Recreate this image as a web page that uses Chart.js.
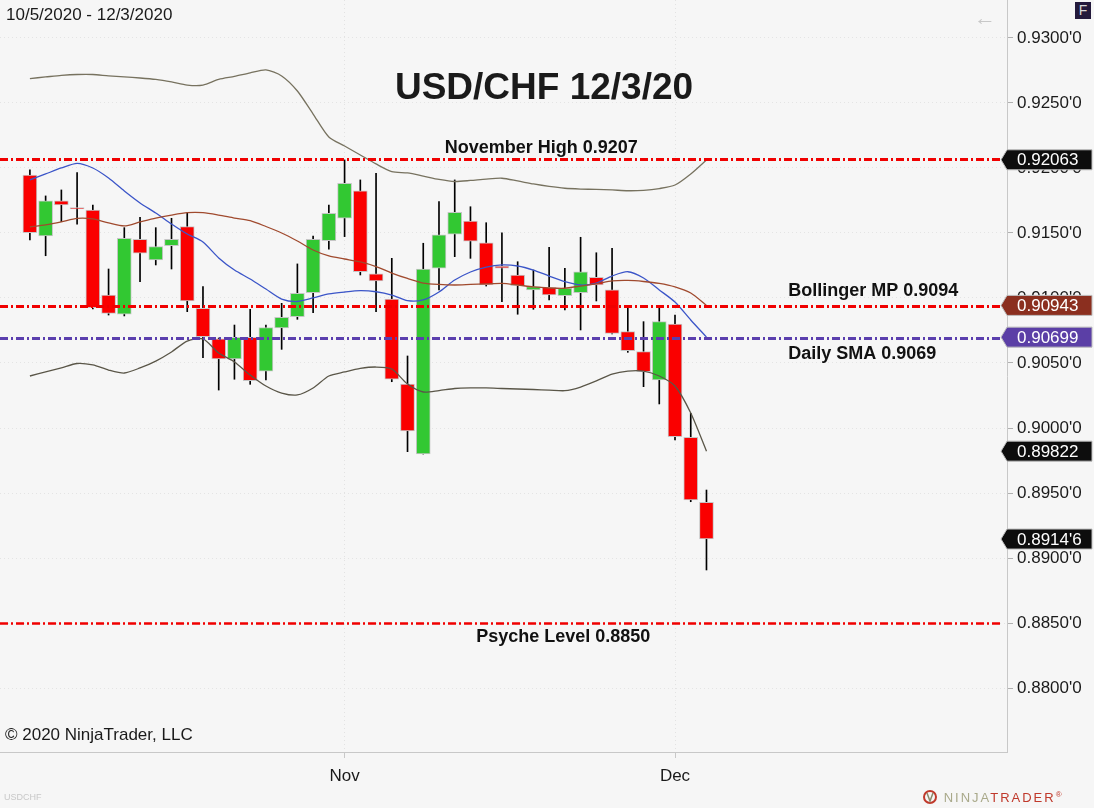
<!DOCTYPE html>
<html>
<head>
<meta charset="utf-8">
<script src="https://cdn.jsdelivr.net/npm/chart.js@4.4.1/dist/chart.umd.min.js"></script>
<style>
    body { margin: 0; background: #f6f6f6; }
    #wrap { position: relative; width: 1094px; height: 808px; overflow: hidden; }
    #chart { position: absolute; left: 0; top: 0; }
    .txt { position: absolute; font-family: "Liberation Sans", Arial, sans-serif; color: #1a1a1a; white-space: nowrap; line-height: 1; }
</style>
</head>
<body>
<div id="wrap">
    <canvas id="chart" width="1094" height="808"></canvas>
    <div class="txt" style="left:6px; top:6px; font-size:17px;">10/5/2020 - 12/3/2020</div>
    <div class="txt" style="left:0; width:1088px; top:68px; font-size:37px; font-weight:bold; text-align:center;">USD/CHF 12/3/20</div>
    <div class="txt" style="left:5px; top:726px; font-size:17px;">© 2020 NinjaTrader, LLC</div>
    <div class="txt" style="left:4px; top:793px; font-size:9px; color:#c8c8c8;">USDCHF</div>
    <div class="txt" style="left:974px; top:7px; font-size:22px; color:#c8c8c8;">←</div>
    <div class="txt" style="left:1075px; top:2px; width:16px; height:17px; background:#241a3c; color:#d8d8d8; font-size:14px; text-align:center; line-height:17px;">F</div>
    <div class="txt" style="left:922px; top:790px; font-size:13px; letter-spacing:2px;">
        <svg width="16" height="14" style="vertical-align:-2px"><circle cx="8" cy="7" r="6" fill="none" stroke="#c0392b" stroke-width="2"/><path d="M5 3 L8 11 L11 3" fill="none" stroke="#8a8a6a" stroke-width="1.5"/></svg>
        <span style="color:#a9a98a;">NINJA</span><span style="color:#c0392b;">TRADER</span><span style="color:#c0392b; font-size:8px; vertical-align:5px;">®</span>
    </div>
</div>
<script>
const dates = [
    '2020-10-05', '2020-10-06', '2020-10-07', '2020-10-08', '2020-10-09',
    '2020-10-12', '2020-10-13', '2020-10-14', '2020-10-15', '2020-10-16',
    '2020-10-19', '2020-10-20', '2020-10-21', '2020-10-22', '2020-10-23',
    '2020-10-26', '2020-10-27', '2020-10-28', '2020-10-29', '2020-10-30',
    '2020-11-02', '2020-11-03', '2020-11-04', '2020-11-05', '2020-11-06',
    '2020-11-09', '2020-11-10', '2020-11-11', '2020-11-12', '2020-11-13',
    '2020-11-16', '2020-11-17', '2020-11-18', '2020-11-19', '2020-11-20',
    '2020-11-23', '2020-11-24', '2020-11-25', '2020-11-26', '2020-11-27',
    '2020-11-30', '2020-12-01', '2020-12-02', '2020-12-03'
];

const opens = [0.91946, 0.91477, 0.91748, 0.91696, 0.91677, 0.91023, 0.90875, 0.91452, 0.91292, 0.91402, 0.91549, 0.90921, 0.90685, 0.90531, 0.90698, 0.90438, 0.90769, 0.90856, 0.91041, 0.91441, 0.91613, 0.91825, 0.91185, 0.90992, 0.90338, 0.89800, 0.91229, 0.91490, 0.91592, 0.91425, 0.91246, 0.91177, 0.91062, 0.91082, 0.91018, 0.91041, 0.91159, 0.91062, 0.90741, 0.90587, 0.90369, 0.90800, 0.89928, 0.89428];
const highs = [0.91985, 0.91785, 0.91831, 0.91964, 0.91715, 0.91223, 0.91541, 0.91621, 0.91541, 0.91613, 0.91656, 0.91087, 0.90692, 0.90792, 0.90913, 0.90792, 0.90959, 0.91262, 0.91477, 0.91715, 0.92062, 0.91908, 0.91959, 0.91305, 0.90554, 0.91421, 0.91741, 0.91908, 0.91702, 0.91579, 0.91502, 0.91279, 0.91215, 0.91390, 0.91229, 0.91467, 0.91348, 0.91382, 0.90921, 0.90818, 0.90928, 0.90869, 0.90113, 0.89523];
const lows = [0.91446, 0.91325, 0.91587, 0.91567, 0.90915, 0.90869, 0.90862, 0.91125, 0.91254, 0.91223, 0.90895, 0.90541, 0.90292, 0.90375, 0.90336, 0.90369, 0.90605, 0.90836, 0.90887, 0.91375, 0.91472, 0.91177, 0.90895, 0.90356, 0.89818, 0.89800, 0.91062, 0.91318, 0.91305, 0.91092, 0.90972, 0.90875, 0.90913, 0.90985, 0.90908, 0.90754, 0.90977, 0.90723, 0.90582, 0.90318, 0.90185, 0.89908, 0.89433, 0.88908];
const closes = [0.91502, 0.91748, 0.91715, 0.91685, 0.90925, 0.90882, 0.91459, 0.91344, 0.91395, 0.91452, 0.90977, 0.90702, 0.90531, 0.90698, 0.90364, 0.90772, 0.90852, 0.91036, 0.91452, 0.91652, 0.91882, 0.91202, 0.91131, 0.90375, 0.89977, 0.91223, 0.91485, 0.91659, 0.91438, 0.91100, 0.91229, 0.91095, 0.91087, 0.91023, 0.91075, 0.91202, 0.91100, 0.90728, 0.90595, 0.90433, 0.90818, 0.89933, 0.89446, 0.89146];

const upperBand = [0.92688, 0.92700, 0.92712, 0.92719, 0.92719, 0.92708, 0.92700, 0.92692, 0.92681, 0.92662, 0.92638, 0.92638, 0.92681, 0.92704, 0.92731, 0.92754, 0.92708, 0.92592, 0.92415, 0.92238, 0.92169, 0.92100, 0.92031, 0.91972, 0.91962, 0.91938, 0.91912, 0.91896, 0.91904, 0.91915, 0.91921, 0.91900, 0.91877, 0.91858, 0.91844, 0.91838, 0.91835, 0.91831, 0.91825, 0.91828, 0.91842, 0.91869, 0.91954, 0.92062];
const middleBand = [0.91546, 0.91562, 0.91585, 0.91612, 0.91608, 0.91577, 0.91554, 0.91585, 0.91615, 0.91638, 0.91656, 0.91656, 0.91638, 0.91615, 0.91595, 0.91550, 0.91500, 0.91438, 0.91369, 0.91323, 0.91300, 0.91277, 0.91242, 0.91192, 0.91150, 0.91115, 0.91104, 0.91100, 0.91104, 0.91108, 0.91113, 0.91100, 0.91085, 0.91077, 0.91075, 0.91092, 0.91108, 0.91131, 0.91135, 0.91127, 0.91112, 0.91085, 0.91038, 0.90943];
const lowerBand = [0.90400, 0.90431, 0.90462, 0.90496, 0.90485, 0.90446, 0.90423, 0.90462, 0.90515, 0.90585, 0.90669, 0.90685, 0.90577, 0.90508, 0.90408, 0.90323, 0.90269, 0.90254, 0.90308, 0.90400, 0.90431, 0.90458, 0.90469, 0.90454, 0.90338, 0.90277, 0.90288, 0.90304, 0.90308, 0.90308, 0.90304, 0.90300, 0.90296, 0.90292, 0.90287, 0.90315, 0.90362, 0.90415, 0.90438, 0.90438, 0.90400, 0.90323, 0.90115, 0.89822];
const smaLine = [0.91908, 0.91954, 0.92000, 0.92036, 0.92000, 0.91923, 0.91823, 0.91731, 0.91654, 0.91569, 0.91492, 0.91431, 0.91308, 0.91215, 0.91146, 0.91069, 0.90992, 0.90973, 0.91000, 0.91031, 0.91046, 0.91056, 0.91048, 0.91023, 0.90979, 0.90985, 0.91046, 0.91138, 0.91200, 0.91238, 0.91254, 0.91246, 0.91215, 0.91169, 0.91125, 0.91100, 0.91115, 0.91169, 0.91202, 0.91154, 0.91062, 0.90969, 0.90831, 0.90699];

const yTickValues = [0.8800, 0.8850, 0.8900, 0.8950, 0.9000, 0.9050, 0.9100, 0.9150, 0.9200, 0.9250, 0.9300];
const monthNames = ['Jan', 'Feb', 'Mar', 'Apr', 'May', 'Jun', 'Jul', 'Aug', 'Sep', 'Oct', 'Nov', 'Dec'];

const levelValues = [0.9207, 0.9094, 0.9069, 0.8850];
const levelLabels = ['November High 0.9207', 'Bollinger MP 0.9094', 'Daily SMA 0.9069', 'Psyche Level 0.8850'];

const tagValues = [0.92063, 0.90943, 0.90699, 0.89822, 0.89146];
const tagLabels = ['0.92063', '0.90943', '0.90699', '0.89822', "0.8914'6"];

// styles for the level lines / tags (kept apart from the values)
const levelStyles = [
    { color: '#f00000', width: 3, anchor: 'center', at: 32.5, dy: -11 },
    { color: '#f00000', width: 3, anchor: 'left', at: 48.2, dy: -15 },
    { color: '#5b3fae', width: 3, anchor: 'left', at: 48.2, dy: 16 },
    { color: '#f00000', width: 2.5, anchor: 'center', at: 33.9, dy: 14 }
];
const tagColors = ['#0d0d0d', '#8b2f1f', '#5b3fa6', '#0d0d0d', '#0d0d0d'];

const monthTicks = dates
    .map((d, i) => ({ i, m: Number(d.slice(5, 7)) }))
    .filter((o, k, arr) => k > 0 && o.m !== arr[k - 1].m);

const FONT = '"Liberation Sans", Arial, sans-serif';

const bgPlugin = {
    id: 'bg',
    beforeDraw(chart) {
        const ctx = chart.ctx;
        ctx.save();
        ctx.fillStyle = '#f6f6f6';
        ctx.fillRect(0, 0, chart.width, chart.height);
        ctx.restore();
    }
};

const levelsPlugin = {
    id: 'levels',
    afterDraw(chart) {
        const ctx = chart.ctx;
        const { left, right } = chart.chartArea;
        const xs = chart.scales.x;
        const ys = chart.scales.y;
        const tipX = right - 6;

        ctx.save();
        levelValues.forEach((v, k) => {
            const st = levelStyles[k];
            const y = Math.round(ys.getPixelForValue(v)) + 0.5;
            ctx.strokeStyle = st.color;
            ctx.lineWidth = st.width;
            ctx.setLineDash([8, 3, 2, 3]);
            ctx.beginPath();
            ctx.moveTo(left, y);
            ctx.lineTo(tipX, y);
            ctx.stroke();

            ctx.setLineDash([]);
            ctx.fillStyle = '#111';
            ctx.font = 'bold 18px ' + FONT;
            ctx.textBaseline = 'middle';
            ctx.textAlign = st.anchor;
            ctx.fillText(levelLabels[k], xs.getPixelForValue(st.at), y + st.dy);
        });

        // price tags on the right axis
        tagValues.forEach((v, k) => {
            const y = ys.getPixelForValue(v);
            const h = 20;
            ctx.fillStyle = tagColors[k];
            ctx.strokeStyle = '#bdbdbd';
            ctx.lineWidth = 1;
            ctx.beginPath();
            ctx.moveTo(tipX, y);
            ctx.lineTo(tipX + 6, y - h / 2);
            ctx.lineTo(chart.width - 2, y - h / 2);
            ctx.lineTo(chart.width - 2, y + h / 2);
            ctx.lineTo(tipX + 6, y + h / 2);
            ctx.closePath();
            ctx.fill();
            ctx.stroke();
            ctx.fillStyle = '#ffffff';
            ctx.font = '17px ' + FONT;
            ctx.textAlign = 'left';
            ctx.textBaseline = 'middle';
            ctx.fillText(tagLabels[k], right + 10, y + 1);
        });
        ctx.restore();
    }
};

const wickData = dates.map((d, i) => ({ x: i, y: [lows[i], highs[i]] }));
const bodyData = dates.map((d, i) => ({ x: i, y: [opens[i], closes[i]] }));
const bodyColors = dates.map((d, i) => closes[i] >= opens[i] ? '#32c832' : '#fa0000');
const lineData = arr => arr.map((v, i) => ({ x: i, y: v }));

function lineSet(data, color, width) {
    return {
        type: 'line',
        data: lineData(data),
        borderColor: color,
        borderWidth: width,
        pointRadius: 0,
        tension: 0.25,
        fill: false,
        order: 1
    };
}

const ctx = document.getElementById('chart').getContext('2d');
new Chart(ctx, {
    data: {
        datasets: [
            {
                type: 'bar',
                data: wickData,
                backgroundColor: '#000000',
                barThickness: 1,
                grouped: false,
                order: 3
            },
            {
                type: 'bar',
                data: bodyData,
                backgroundColor: bodyColors,
                borderColor: '#c6c6c6',
                borderWidth: 1,
                borderSkipped: false,
                barThickness: 14,
                grouped: false,
                order: 2
            },
            lineSet(upperBand, '#77725f', 1.3),
            lineSet(lowerBand, '#5a5648', 1.3),
            lineSet(middleBand, '#a04a2e', 1.3),
            lineSet(smaLine, '#3b55c8', 1.3)
        ]
    },
    options: {
        responsive: false,
        animation: false,
        devicePixelRatio: 1,
        layout: { padding: 0 },
        plugins: {
            legend: { display: false },
            tooltip: { enabled: false }
        },
        scales: {
            x: {
                type: 'linear',
                min: -1.9,
                max: 62.1,
                offset: false,
                afterBuildTicks: axis => {
                    axis.ticks = monthTicks.map(o => ({ value: o.i }));
                },
                afterFit: axis => {
                    axis.height = 56;
                    axis.paddingLeft = 0;
                    axis.paddingRight = 0;
                },
                ticks: {
                    autoSkip: false,
                    maxRotation: 0,
                    padding: 8,
                    color: '#1a1a1a',
                    font: { family: FONT, size: 17 },
                    callback: v => {
                        const o = monthTicks.find(t => t.i === v);
                        return o ? monthNames[o.m - 1] : '';
                    }
                },
                grid: {
                    offset: false,
                    color: '#e2e2e2',
                    tickColor: '#c8c8c8',
                    tickLength: 6
                },
                border: { display: true, color: '#c8c8c8', dash: [1, 3] }
            },
            y: {
                type: 'linear',
                position: 'right',
                min: 0.87508,
                max: 0.93292,
                afterBuildTicks: axis => {
                    axis.ticks = yTickValues.map(v => ({ value: v }));
                },
                afterFit: axis => {
                    axis.width = 87;
                    axis.paddingTop = 0;
                    axis.paddingBottom = 0;
                },
                ticks: {
                    padding: 4,
                    color: '#1a1a1a',
                    font: { family: FONT, size: 17 },
                    callback: v => v.toFixed(4) + "'0"
                },
                grid: {
                    color: '#e4e4e4',
                    tickColor: '#b0b0b0',
                    tickLength: 6
                },
                border: { display: true, color: '#c8c8c8', dash: [1, 3] }
            }
        }
    },
    plugins: [bgPlugin, levelsPlugin]
});
</script>
</body>
</html>
